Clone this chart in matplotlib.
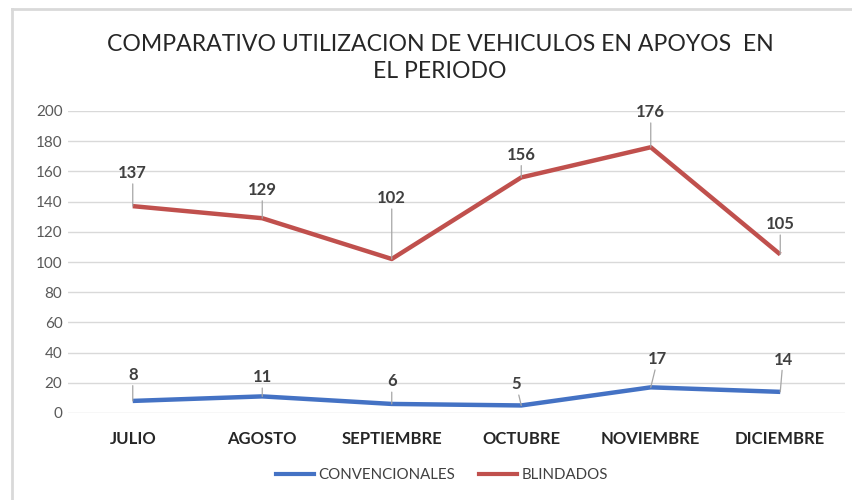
import matplotlib
matplotlib.use("Agg")
import matplotlib.pyplot as plt
from matplotlib.lines import Line2D

months = ["JULIO", "AGOSTO", "SEPTIEMBRE", "OCTUBRE", "NOVIEMBRE", "DICIEMBRE"]
convencionales = [8, 11, 6, 5, 17, 14]
blindados = [137, 129, 102, 156, 176, 105]
yticks = [0, 20, 40, 60, 80, 100, 120, 140, 160, 180, 200]

# label offsets in points (dx, dy)
off_blind = [(0, 18), (0, 14.5), (0, 38), (0, 10.5), (0, 19.5), (0, 16)]
off_conv = [(0, 13), (0, 8), (0, 10.5), (-3.6, 9.5), (5, 14.5), (2, 17.5)]

plt.rcParams['font.family'] = ['Lato', 'DejaVu Sans']

W, H = 853, 500
fig = plt.figure(figsize=(W / 100, H / 100), dpi=100)
ax = fig.add_axes([68 / W, 1 - 413 / H, (845 - 68) / W, (413 - 111) / H])

x = list(range(len(months)))
blue = "#4472C4"
red = "#C0504D"
ax.plot(x, convencionales, color=blue, lw=3.2, solid_capstyle='butt', zorder=3)
ax.plot(x, blindados, color=red, lw=3.2, solid_capstyle='butt', zorder=3)

def label(xi, yi, off):
    dx, dy = off
    ax.annotate(str(yi), xy=(xi, yi), xytext=(dx, dy), textcoords='offset points',
                ha='center', va='bottom', fontsize=12, fontweight='bold', color='#404040',
                arrowprops=dict(arrowstyle='-', color='#a6a6a6', lw=0.9,
                                shrinkA=0, shrinkB=0),
                zorder=4)

for xi, yi, off in zip(x, blindados, off_blind):
    label(xi, yi, off)
for xi, yi, off in zip(x, convencionales, off_conv):
    label(xi, yi, off)

ax.set_xlim(-0.5, len(months) - 0.5)
ax.set_ylim(0, 200)
ax.set_yticks(yticks)
ax.set_yticklabels([str(v) for v in yticks], fontsize=11, color='#595959')
ax.set_xticks(x)
ax.set_xticklabels(months, fontsize=12, fontweight='bold', color='#262626')
ax.tick_params(axis='both', length=0)
ax.tick_params(axis='y', pad=4)
ax.tick_params(axis='x', pad=13)
ax.grid(axis='y', color='#d9d9d9', lw=1)
ax.set_axisbelow(True)
for s in ax.spines.values():
    s.set_visible(False)

fig.text(440 / W, 1 - 58 / H, "COMPARATIVO UTILIZACION DE VEHICULOS EN APOYOS  EN\nEL PERIODO",
         ha='center', va='center', fontsize=16.6, color='#262626', linespacing=1.4)

handles = [Line2D([], [], color=blue, lw=3), Line2D([], [], color=red, lw=3)]
fig.legend(handles, ["CONVENCIONALES", "BLINDADOS"], loc='center',
           bbox_to_anchor=(442 / W, 1 - 475 / H), ncol=2, frameon=False,
           fontsize=10.8, handlelength=2.5, handletextpad=0.3, columnspacing=1.6,
           labelcolor='#404040')

# faint frame lines (top and left)
fig.add_artist(Line2D([12 / W, 1], [1 - 9 / H, 1 - 9 / H], color='#d9d9d9', lw=2, transform=fig.transFigure))
fig.add_artist(Line2D([12 / W, 12 / W], [0, 1 - 9 / H], color='#d9d9d9', lw=2, transform=fig.transFigure))

fig.savefig("out.png", dpi=100, facecolor='white')
